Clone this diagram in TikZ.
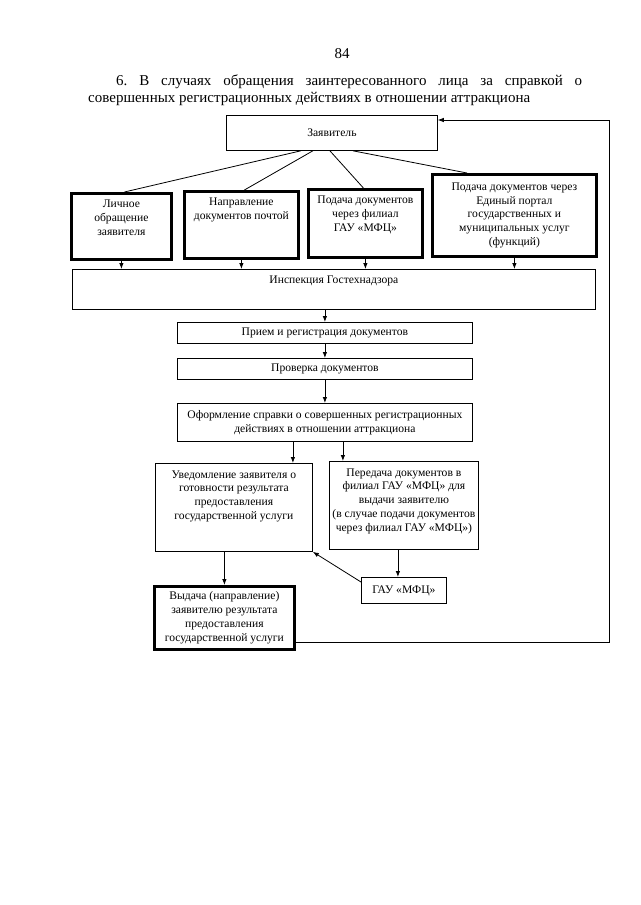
\documentclass[tikz,border=0pt]{standalone}
\usepackage{fontspec}
\setmainfont{Liberation Serif}
\usetikzlibrary{arrows.meta}
\newcommand{\boxtext}[3]{\parbox[t][#2][t]{#1}{\centering #3}}

\begin{document}
\begin{tikzpicture}[x=1pt,y=-1pt,
	box/.style={draw, line width=0.8pt, anchor=north west, inner sep=0pt, align=center, font=\fontsize{11.6pt}{13.8pt}\selectfont},
	boldbox/.style={box, line width=2.8pt},
	toppad/.style={inner ysep=7pt},
	arr/.style={-{Latex[length=6pt,width=4.5pt]}, line width=0.8pt},
	big/.style={font=\fontsize{15pt}{16.5pt}\selectfont}]
	\path[use as bounding box, fill=white] (0,0) rectangle (640,905);
	\node[big, anchor=base] (pagenum) at (342,58) {84};
	\node[big, anchor=north west, inner sep=0pt, align=left] (title) at (88,75) {\frenchspacing\hspace*{28pt}\makebox[466pt][s]{6. В случаях обращения заинтересованного лица за справкой о}\\совершенных регистрационных действиях в отношении аттракциона};
	\node[box, minimum width=211pt, minimum height=35pt] (zaya) at (226,115) {Заявитель};
	\node[boldbox, toppad] (lich) at (70,192) {\boxtext{100pt}{52pt}{Личное\\обращение\\заявителя}};
	\node[boldbox, toppad] (napr) at (183,190) {\boxtext{114pt}{53pt}{Направление\\документов почтой}};
	\node[boldbox, toppad] (fil) at (307,188) {\boxtext{114pt}{54pt}{Подача документов\\через филиал\\ГАУ «МФЦ»}};
	\node[boldbox, minimum width=164pt, minimum height=82pt] (port) at (431,173) {Подача документов через\\Единый портал\\государственных и\\муниципальных услуг\\(функций)};
	\node[box, toppad] (insp) at (72,269) {\boxtext{523pt}{26pt}{Инспекция Гостехнадзора}};
	\node[box, minimum width=295pt, minimum height=21pt] (priem) at (177,322) {Прием и регистрация документов};
	\node[box, minimum width=295pt, minimum height=21pt] (prov) at (177,358) {Проверка документов};
	\node[box, minimum width=295pt, minimum height=38pt] (oform) at (177,403) {Оформление справки о совершенных регистрационных\\действиях в отношении аттракциона};
	\node[box, toppad] (uved) at (155,463) {\boxtext{157pt}{74pt}{Уведомление заявителя о\\готовности результата\\предоставления\\государственной услуги}};
	\node[box, toppad] (pered) at (329,461) {\boxtext{149pt}{74pt}{Передача документов в\\филиал ГАУ «МФЦ» для\\выдачи заявителю\\(в случае подачи документов\\через филиал ГАУ «МФЦ»)}};
	\node[box, minimum width=85pt, minimum height=26pt] (gau) at (361,577) {ГАУ «МФЦ»};
	\node[boldbox, minimum width=140pt, minimum height=63pt] (vyd) at (153,585) {Выдача (направление)\\заявителю результата\\предоставления\\государственной услуги};
	\coordinate (fbd) at (609,642);
	\coordinate (fbu) at (609,120);
	\draw[line width=0.8pt] ([xshift=-31pt]zaya.south) -- ([xshift=3pt]lich.north);
	\draw[line width=0.8pt] ([xshift=-19pt]zaya.south) -- ([xshift=3pt]napr.north);
	\draw[line width=0.8pt] ([xshift=-2pt]zaya.south) -- ([xshift=-2pt]fil.north);
	\draw[line width=0.8pt] ([xshift=21pt]zaya.south) -- ([xshift=36pt]port.north west);
	\foreach \b in {lich,napr,fil,port} \draw[arr] (\b.south) -- (\b.south |- insp.north);
	\draw[arr] (priem.north |- insp.south) -- (priem.north);
	\draw[arr] (priem.south) -- (prov.north);
	\draw[arr] (prov.south) -- (oform.north);
	\draw[arr] ([xshift=-32pt]oform.south) -- ([xshift=-32pt]oform.south |- uved.north);
	\draw[arr] ([xshift=18pt]oform.south) -- ([xshift=18pt]oform.south |- pered.north);
	\draw[arr] ([xshift=-6pt]gau.north |- pered.south) -- ([xshift=-6pt]gau.north);
	\draw[arr] ([yshift=-5pt]gau.north west) -- (uved.south east);
	\draw[arr] (vyd.north |- uved.south) -- (vyd.north);
	\draw[arr] (vyd.east |- fbd) -- (fbd) -- (fbu) -- (zaya.east |- fbu);
\end{tikzpicture}
\end{document}
